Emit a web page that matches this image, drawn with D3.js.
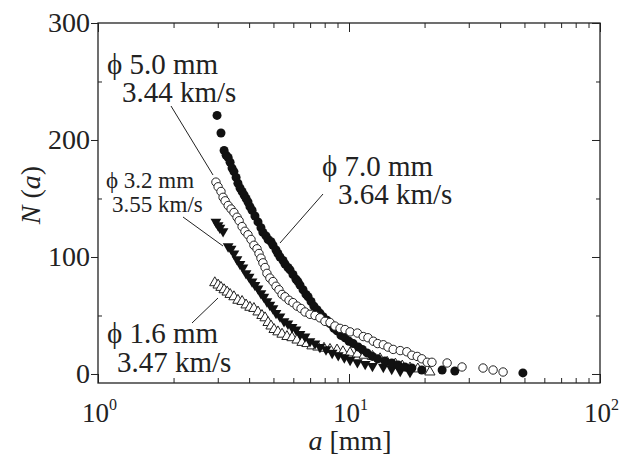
<!DOCTYPE html>
<html lang="en">
<head>
<meta charset="UTF-8">
<title>N(a) vs a</title>
<script src="https://d3js.org/d3.v7.min.js"></script>
<style>
  body { margin: 0; background: #fff; }
  svg text { font-family: "Liberation Serif", "Times New Roman", serif; fill: #222; }
  .domain { display: none; }
</style>
</head>
<body>
<script>
// phi 7.0 mm, 3.64 km/s (filled circles)
const aFilledCircle = [2.98, 3.09, 3.18, 3.24, 3.30, 3.36, 3.42, 3.48, 3.55, 3.61, 3.68, 3.75, 3.82, 3.89, 3.96, 4.03, 4.11, 4.22, 4.34, 4.46, 4.54, 4.67, 4.76, 4.89, 4.98, 5.12, 5.21, 5.31, 5.46, 5.56, 5.71, 5.82, 5.98, 6.15, 6.26, 6.38, 6.56, 6.74, 6.87, 7.06, 7.25, 7.46, 7.66, 7.88, 8.17, 8.40, 8.71, 8.96, 9.29, 9.64, 10.0, 10.4, 10.9, 11.3, 11.8, 12.4, 13.0, 13.9, 14.8, 15.7, 16.7, 17.8, 19.5, 23.5, 26.4, 49.3];
const nFilledCircle = [221, 206, 191, 187, 185, 181, 176, 173, 168, 163, 159, 156, 153, 150, 147, 143, 140, 135, 130, 125, 121, 118, 115, 113, 110, 106, 103, 100, 97, 94, 91, 89, 85, 81, 79, 76, 72, 68, 66, 62, 58, 55, 52, 49, 46, 43, 39, 37, 33, 31, 28, 26, 23, 21, 18, 15, 13, 11, 9.4, 7.7, 6, 5.1, 3.4, 3.4, 2.6, 0.9];

// phi 5.0 mm, 3.44 km/s (open circles)
const aOpenCircle = [2.95, 3.01, 3.09, 3.15, 3.21, 3.30, 3.39, 3.48, 3.58, 3.65, 3.75, 3.85, 3.96, 4.07, 4.18, 4.30, 4.38, 4.46, 4.54, 4.63, 4.71, 4.84, 4.98, 5.12, 5.26, 5.41, 5.56, 5.77, 5.98, 6.21, 6.44, 6.68, 6.99, 7.32, 7.66, 8.02, 8.40, 8.79, 9.21, 9.64, 10.1, 10.8, 11.4, 11.9, 12.5, 13.0, 13.7, 14.3, 15.0, 16.0, 17.0, 17.8, 18.7, 19.5, 20.5, 21.4, 24.6, 28.2, 34.2, 37.5, 41.1];
const nOpenCircle = [164, 160, 156, 151, 148, 144, 141, 138, 134, 131, 126, 122, 119, 115, 110, 107, 103, 99, 95, 91, 86, 82, 79, 75, 72, 68, 66, 63, 61, 58, 56, 53, 51, 50, 48, 45, 44, 41, 39, 38, 36, 35, 32, 31, 28, 26, 25, 23, 21, 20, 19, 16, 15, 13, 10, 10, 9.4, 6, 5.1, 3.4, 1.7];

// phi 3.2 mm, 3.55 km/s (filled triangles)
const aFilledTri = [2.95, 3.01, 3.06, 3.15, 3.30, 3.39, 3.48, 3.58, 3.68, 3.78, 3.89, 4.00, 4.11, 4.22, 4.34, 4.46, 4.58, 4.71, 4.84, 4.98, 5.12, 5.31, 5.51, 5.71, 5.93, 6.15, 6.38, 6.68, 6.99, 7.32, 7.66, 8.10, 8.57, 9.06, 9.58, 10.1, 10.8, 11.6, 12.4, 13.7, 14.8, 16.0, 17.5];
const nFilledTri = [130, 127, 125, 122, 109, 107, 103, 98, 94, 91, 86, 83, 79, 76, 73, 69, 66, 62, 59, 56, 52, 49, 45, 43, 40, 38, 34, 32, 28, 26, 23, 21, 18, 16, 14, 12, 10, 8.5, 6.8, 6, 4.3, 2.6, 1.7];

// phi 1.6 mm, 3.47 km/s (open triangles)
const aOpenTri = [2.92, 3.01, 3.09, 3.18, 3.27, 3.36, 3.48, 3.61, 3.75, 3.89, 4.03, 4.18, 4.34, 4.50, 4.63, 4.76, 4.89, 5.03, 5.21, 5.41, 5.66, 5.93, 6.21, 6.50, 6.80, 7.12, 7.52, 7.95, 8.40, 8.96, 9.46, 10.1, 10.8, 11.5, 12.4, 13.3, 14.2, 15.3, 16.3, 17.5, 18.8, 20.5, 21.0];
const nOpenTri = [78, 76, 74, 72, 70, 68, 66, 63, 62, 59, 57, 56, 53, 50, 48, 44, 41, 38, 36, 34, 32, 31, 29, 27, 26, 24, 23, 22, 21, 20.5, 19, 18, 17, 16, 15, 13, 10, 8.5, 6.8, 5.1, 4.3, 3.4, 1.7];

const yTicks = [0, 100, 200, 300];
const yMinor = [50, 150, 250];
const xTicks = [1, 10, 100];
const xMinor = [2, 3, 4, 5, 6, 7, 8, 9, 20, 30, 40, 50, 60, 70, 80, 90];

const width = 619, height = 456;
const marginLeft = 98, plotRight = 600, plotTop = 23, plotBottom = 383;

const x = d3.scaleLog().domain([1, 100]).range([marginLeft, plotRight]);
const y = d3.scaleLinear().domain([-7.7, 300]).range([plotBottom, plotTop]);

const svg = d3.select("body").append("svg")
    .attr("width", width).attr("height", height);

// axes
const tickStyle = g => g.selectAll("line").attr("stroke", "#222").attr("stroke-width", 1);

svg.append("g").attr("transform", `translate(0,${plotBottom})`)
    .call(d3.axisBottom(x).tickValues(xTicks).tickSize(-9).tickFormat(""))
    .call(tickStyle);
svg.append("g").attr("transform", `translate(0,${plotBottom})`)
    .call(d3.axisBottom(x).tickValues(xMinor).tickSize(-5).tickFormat(""))
    .call(tickStyle);
svg.append("g").attr("transform", `translate(0,${plotTop})`)
    .call(d3.axisTop(x).tickValues(xTicks).tickSize(-9).tickFormat(""))
    .call(tickStyle);
svg.append("g").attr("transform", `translate(0,${plotTop})`)
    .call(d3.axisTop(x).tickValues(xMinor).tickSize(-5).tickFormat(""))
    .call(tickStyle);

svg.append("g").attr("transform", `translate(${marginLeft},0)`)
    .call(d3.axisLeft(y).tickValues(yTicks).tickSize(7).tickPadding(1).tickFormat(d3.format("d")))
    .call(tickStyle)
    .call(g => g.selectAll("text").attr("font-size", 28).attr("fill", "#222"));
svg.append("g").attr("transform", `translate(${marginLeft},0)`)
    .call(d3.axisLeft(y).tickValues(yMinor).tickSize(-4).tickFormat(""))
    .call(tickStyle);
svg.append("g").attr("transform", `translate(${plotRight},0)`)
    .call(d3.axisRight(y).tickValues(yTicks).tickSize(-8).tickFormat(""))
    .call(tickStyle);
svg.append("g").attr("transform", `translate(${plotRight},0)`)
    .call(d3.axisRight(y).tickValues(yMinor).tickSize(-4).tickFormat(""))
    .call(tickStyle);

svg.append("rect")
    .attr("x", marginLeft).attr("y", plotTop)
    .attr("width", plotRight - marginLeft).attr("height", plotBottom - plotTop)
    .attr("fill", "none").attr("stroke", "#222").attr("stroke-width", 1.3);

// x tick labels 10^n, "10" centred on the tick, exponent to its right
const xl = svg.append("g").selectAll("text").data(xTicks).join("text")
    .attr("x", d => x(d) - 16)
    .attr("y", 422)
    .attr("font-size", 27);
xl.append("tspan").text("10");
xl.append("tspan").attr("dy", -12).attr("font-size", 16).text(d => Math.round(Math.log10(d)));

// axis titles
const xt = svg.append("text").attr("x", 350).attr("y", 450).attr("text-anchor", "middle").attr("font-size", 28);
xt.append("tspan").attr("font-style", "italic").text("a");
xt.append("tspan").text(" [mm]");

const yt = svg.append("text")
    .attr("transform", `translate(40,195) rotate(-90)`)
    .attr("text-anchor", "middle").attr("font-size", 28);
yt.append("tspan").attr("font-style", "italic").text("N");
yt.append("tspan").text(" (");
yt.append("tspan").attr("font-style", "italic").text("a");
yt.append("tspan").text(")");

// data
const toPts = (as, ns) => as.map((a, i) => ({a, n: ns[i]}));
const marks = svg.append("g");

marks.append("g").selectAll("path").data(toPts(aOpenTri, nOpenTri)).join("path")
    .attr("d", d3.symbol(d3.symbolTriangle, 46))
    .attr("transform", d => `translate(${x(d.a)},${y(d.n)})`)
    .attr("fill", "#fff").attr("stroke", "#222").attr("stroke-width", 1);

marks.append("g").selectAll("path").data(toPts(aFilledTri, nFilledTri)).join("path")
    .attr("d", d3.symbol(d3.symbolTriangle, 50))
    .attr("transform", d => `translate(${x(d.a)},${y(d.n)}) rotate(180)`)
    .attr("fill", "#111");

marks.append("g").selectAll("circle").data(toPts(aFilledCircle, nFilledCircle)).join("circle")
    .attr("cx", d => x(d.a)).attr("cy", d => y(d.n)).attr("r", 4.5)
    .attr("fill", "#111");

marks.append("g").selectAll("circle").data(toPts(aOpenCircle, nOpenCircle)).join("circle")
    .attr("cx", d => x(d.a)).attr("cy", d => y(d.n)).attr("r", 4.2)
    .attr("fill", "#fff").attr("stroke", "#222").attr("stroke-width", 1);

// annotations
const labels = [
  {t: "\u03D5 5.0 mm", x: 107, y: 74, s: 29},
  {t: "3.44 km/s", x: 122, y: 102, s: 29},
  {t: "\u03D5 3.2 mm", x: 106, y: 188, s: 23},
  {t: "3.55 km/s", x: 112, y: 212, s: 23},
  {t: "\u03D5 7.0 mm", x: 322, y: 176, s: 29},
  {t: "3.64 km/s", x: 338, y: 204, s: 29},
  {t: "\u03D5 1.6 mm", x: 107, y: 343, s: 29},
  {t: "3.47 km/s", x: 117, y: 372, s: 29}
];
svg.append("g").selectAll("text").data(labels).join("text")
    .attr("x", d => d.x).attr("y", d => d.y)
    .attr("font-size", d => d.s)
    .text(d => d.t);

const leaders = [
  [171, 106, 213, 175],
  [183, 217, 223, 246],
  [323, 194, 280, 243],
  [192, 323, 218, 298]
];
svg.append("g").selectAll("line").data(leaders).join("line")
    .attr("x1", d => d[0]).attr("y1", d => d[1])
    .attr("x2", d => d[2]).attr("y2", d => d[3])
    .attr("stroke", "#222").attr("stroke-width", 1);
</script>
</body>
</html>
